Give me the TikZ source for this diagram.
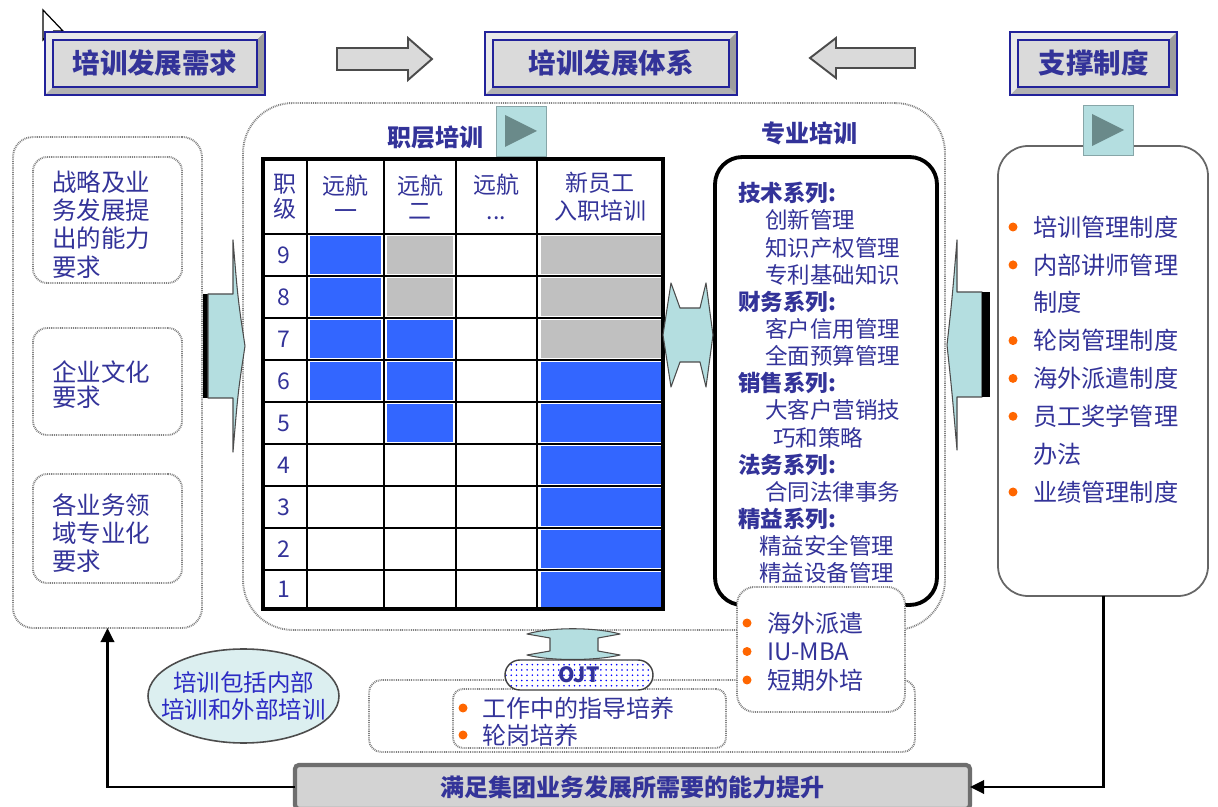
\documentclass[tikz,border=0pt]{standalone}
\usepackage{fontspec}
\setmainfont{Noto Sans CJK SC}
\usetikzlibrary{arrows.meta,patterns,shapes.geometric}
\definecolor{navy}{HTML}{333399}
\definecolor{ellblue}{HTML}{2B2BC4}
\definecolor{tblue}{HTML}{3366FF}
\definecolor{tgray}{HTML}{C0C0C0}
\definecolor{cyanf}{HTML}{B4DEE0}
\definecolor{trif}{HTML}{6A8A8A}
\definecolor{orng}{HTML}{FF6600}
\definecolor{bevblue}{HTML}{22229A}
\definecolor{dotg}{HTML}{808080}
\definecolor{face}{HTML}{DADADA}
\definecolor{bvlight}{HTML}{E9E9E9}
\definecolor{bvdark}{HTML}{B2B2B2}
\definecolor{bvright}{HTML}{9E9E9E}
\definecolor{barfill}{HTML}{D3D3D3}
\definecolor{bardraw}{HTML}{6E6E6E}
\definecolor{ellfill}{HTML}{DCEFF0}
\newlength\pxu
\setlength\pxu{0.02cm}
\newcommand\fsz[2]{\fontsize{#1\pxu}{#2\pxu}\selectfont}
\newcommand\ind[1]{\hspace*{#1\pxu}}
\newcommand\pxnode[7]{\node[#2, minimum width={(#5-#3)*0.02cm}, minimum height={(#6-#4)*0.02cm}, inner sep=0, outer sep=0] (#1) at ({(#3+#5)/2},{(#4+#6)/2}) {#7};}
\newcommand\bevelbox[6]{%
  \fill[bvdark] (#2,#3) rectangle (#4,#5);
  \fill[bvlight] (#2,#3) -- (#4,#3) -- ({#4-8},{#3+8}) -- ({#2+8},{#3+8}) -- ({#2+8},{#5-8}) -- (#2,#5) -- cycle;
  \fill[bvright] (#4,#3) -- (#4,#5) -- ({#4-8},{#5-8}) -- ({#4-8},{#3+8}) -- cycle;
  \draw[bevblue, line width=1.1pt] (#2,#3) rectangle (#4,#5);
  \node[titlebox, minimum width={(#4-#2-16)*0.02cm}, minimum height={(#5-#3-16)*0.02cm}] (#1) at ({(#2+#4)/2},{(#3+#5)/2}) {#6};
}
\begin{document}
\begin{tikzpicture}[x=0.02cm,y=-0.02cm,
  dotline/.style={draw=dotg, line width=1.1pt, dash pattern=on 0.5pt off 0.55pt},
  dotpanel/.style={dotline},
  txt/.style={text=navy, inner sep=0, outer sep=0, align=left, anchor=west},
  ctxt/.style={text=navy, inner sep=0, outer sep=0, align=center},
  cyanarrow/.style={fill=cyanf, draw=black!70, line width=0.6pt, line join=round},
  grayarrow/.style={fill=face, draw=black!70, line width=1.1pt},
  conn/.style={line width=1.7pt, -{Triangle[length=8pt,width=7.5pt]}},
  cellb/.style={fill=tblue, draw=white, line width=1.1pt},
  cellg/.style={fill=tgray, draw=white, line width=1.1pt},
  grid/.style={line width=1.2pt},
  btn/.style={fill=cyanf, draw=cyanf!75!black, line width=0.5pt, inner sep=0, outer sep=0, minimum size=50*0.02cm},
  titlebox/.style={fill=face, draw=bevblue, line width=1.1pt, inner sep=0, outer sep=0, text=navy, font=\fsz{27.5}{30}\bfseries},
  bullet/.style={fill=orng},
]
\useasboundingbox (0,0) rectangle (1218,807);
\fill[white] (0,0) rectangle (1218,807);

% cursor
\draw[fill=white, line width=0.7pt, line join=miter] (43,10) -- (43,40) -- (50,33) -- (55,45) -- (59,43) -- (54,31) -- (63,31) -- cycle;

% titles
\bevelbox{t1}{45}{32}{265}{95}{培训发展需求}
\bevelbox{t2}{485}{32}{737}{95}{培训发展体系}
\bevelbox{t3}{1010}{32}{1177}{95}{支撑制度}
\draw[grayarrow] (337,48) -- (408,48) -- (408,38) -- (432,59) -- (408,80) -- (408,70) -- (337,70) -- cycle;
\draw[grayarrow] (915,48) -- (836,48) -- (836,38) -- (810,58) -- (836,78) -- (836,68) -- (915,68) -- cycle;

% left panel
\pxnode{lp}{dotpanel, rounded corners=0.4cm}{13}{137}{202}{628}{}
\pxnode{lb1}{dotpanel, rounded corners=0.28cm}{33}{157}{182}{283}{}
\pxnode{lb2}{dotpanel, rounded corners=0.28cm}{33}{328}{182}{435}{}
\pxnode{lb3}{dotpanel, rounded corners=0.28cm}{33}{474}{182}{583}{}
\node[txt, font=\fsz{24.5}{28.3}] (lt1) at (52,224.5) {战略及业\\务发展提\\出的能力\\要求};
\node[txt, font=\fsz{24.5}{25.5}] (lt2) at (52,384.5) {企业文化\\要求};
\node[txt, font=\fsz{24.5}{28.3}] (lt3) at (52,533.3) {各业务领\\域专业化\\要求};

% central system box
\pxnode{sys}{dotpanel, rounded corners=1cm}{243}{103}{945}{630}{}
\node[ctxt, font=\fsz{24}{26}\bfseries] (zc) at (435,137) {职层培训};
\node[btn] (b1) at (521,131) {};
\fill[trif] (505,115) -- (505,147) -- (537,131) -- cycle;
\node[ctxt, font=\fsz{24}{26}\bfseries] (zy) at (809,133) {专业培训};

% table
\foreach \x in {307,384,456,537} \draw[grid] (\x,159) -- (\x,609);
\foreach \y in {234,276,318,360,402,444,486,528,570} \draw[grid] (263,\y) -- (663,\y);
\foreach \a/\b in {234/276,276/318,318/360,360/402}
  \draw[cellb] (309,\a+1.5) rectangle (382,\b-1.5);
\foreach \a/\b in {234/276,276/318}
  \draw[cellg] (386,\a+1.5) rectangle (454,\b-1.5);
\foreach \a/\b in {318/360,360/402,402/444}
  \draw[cellb] (386,\a+1.5) rectangle (454,\b-1.5);
\foreach \a/\b in {234/276,276/318,318/360}
  \draw[cellg] (540,\a+1.5) rectangle (662,\b-1.5);
\foreach \a/\b in {360/402,402/444,444/486,486/528,528/570,570/609}
  \draw[cellb] (540,\a+1.5) rectangle (662,\b-1.5);
\pxnode{tbl}{draw, line width=2pt}{263}{159}{663}{609}{}
\node[ctxt, font=\fsz{23}{25.5}] (h0) at (285,197) {职\\级};
\node[ctxt, font=\fsz{23}{25.5}] (h1) at (345.5,197) {远航\\一};
\node[ctxt, font=\fsz{23}{25.5}] (h2) at (420,197) {远航\\二};
\node[ctxt, font=\fsz{23}{25.5}] (h3) at (496.5,197) {远航\\...};
\node[ctxt, font=\fsz{23}{28}] (h4) at (600,197) {新员工\\入职培训};
\foreach \n/\y in {9/255,8/297,7/339,6/381,5/423,4/465,3/507,2/549,1/589.5}
  \node[ctxt, font=\fsz{23}{25}] (r\n) at (284,\y) {\n};

% professional box
\pxnode{prof}{draw, line width=2.2pt, rounded corners=0.55cm}{715}{157}{937}{605}{}
\node[txt, font=\fsz{22.5}{27.14}] (proft) at (738,383) {\textbf{技术系列:}\\\ind{27}创新管理\\\ind{27}知识产权管理\\\ind{27}专利基础知识\\\textbf{财务系列:}\\\ind{27}客户信用管理\\\ind{27}全面预算管理\\\textbf{销售系列:}\\\ind{27}大客户营销技\\\ind{35}巧和策略\\\textbf{法务系列:}\\\ind{27}合同法律事务\\\textbf{精益系列:}\\\ind{21}精益安全管理\\\ind{21}精益设备管理};

% OJT area
\pxnode{ojto}{dotpanel, rounded corners=0.25cm}{369}{680}{915}{752}{}
\pxnode{ojti}{dotpanel, fill=white, rounded corners=0.2cm}{453}{689}{726}{748}{}
\fill[bullet] (463,708) circle[radius=0.09cm];
\fill[bullet] (463,735) circle[radius=0.09cm];
\node[txt, font=\fsz{24}{27}] (ojtt) at (482,721.5) {工作中的指导培养\\轮岗培养};

% external box
\pxnode{ext}{dotpanel, fill=white, rounded corners=0.35cm}{737}{587}{905}{712}{}
\foreach \y in {623,651.5,680} \fill[bullet] (747,\y) circle[radius=0.09cm];
\node[txt, font=\fsz{24}{28.5}] (extt) at (767,651.5) {海外派遣\\IU-MBA\\短期外培};

% cyan arrows
\draw[cyanarrow] (663,335) -- (671,283) -- (680,308) -- (700,308) -- (706,283) -- (713,335) -- (706,387) -- (700,362) -- (680,362) -- (671,387) -- cycle;
\draw[cyanarrow] (527,634) .. controls (550,627) and (595,627) .. (620,634) -- (598,638) -- (598,651) -- (620,655) .. controls (595,661) and (550,661) .. (527,655) -- (550,651) -- (550,638) -- cycle;
\fill[black] (203,294) rectangle (208,398);
\draw[cyanarrow] (208,294) -- (233,294) -- (233,240) .. controls (238,300) .. (245,346) .. controls (238,392) .. (233,452) -- (233,398) -- (208,398) -- cycle;
\draw[cyanarrow] (982,292) -- (957,292) -- (957,240) .. controls (952,300) .. (947,345) .. controls (952,392) .. (957,450) -- (957,397) -- (982,397) -- cycle;
\fill[black] (982,292) rectangle (990,397);

% OJT pill
\node[draw=black!75, line width=0.8pt, preaction={fill=white}, pattern=dots, pattern color=blue, rounded corners=0.3cm, minimum width=148*0.02cm, minimum height=30*0.02cm, inner sep=0, text=navy, font=\fsz{21}{22}\bfseries] (ojt) at (579,675) {OJT};

% right panel
\pxnode{rp}{draw=black!60, line width=1pt, rounded corners=0.6cm}{998}{146}{1208}{596}{}
\node[btn] (b2) at (1108.5,130) {};
\fill[trif] (1092,114) -- (1092,146) -- (1124,130) -- cycle;
\foreach \y in {227,264.9,340.6,378.4,416.3,492} \fill[bullet] (1013,\y) circle[radius=0.09cm];
\node[txt, font=\fsz{24.2}{37.86}] (rpt) at (1033,359.5) {培训管理制度\\内部讲师管理\\制度\\轮岗管理制度\\海外派遣制度\\员工奖学管理\\办法\\业绩管理制度};

% bottom bar and loop
\pxnode{bar}{fill=barfill, draw=bardraw, line width=2.4pt, rounded corners=0.08cm, text=navy, font=\fsz{24}{26}\bfseries}{295}{765}{970}{809}{满足集团业务发展所需要的能力提升}
\draw[conn] (bar.west) -| (lp.south);
\draw[conn] (rp.south) |- (bar.east);

% ellipse
\node[ellipse, draw=black!70, line width=0.9pt, fill=ellfill, minimum width=191*0.02cm, minimum height=94*0.02cm, inner sep=0] (ell) at (243.5,696) {};
\node[ctxt, text=ellblue, font=\fsz{23.5}{27}] (ellt) at (ell.center) {培训包括内部\\培训和外部培训};
\end{tikzpicture}
\end{document}
